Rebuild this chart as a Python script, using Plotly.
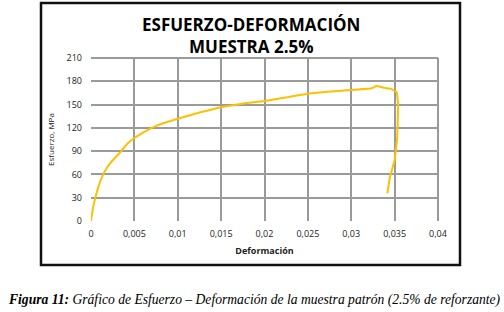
import plotly.graph_objects as go

strain = [0.0, 0.00023, 0.0005, 0.00088, 0.00137, 0.00183, 0.0024, 0.0035, 0.0041, 0.005,
          0.0060, 0.0072, 0.0085, 0.010, 0.0126, 0.015, 0.0176, 0.020, 0.025, 0.030, 0.0324,
          0.0329, 0.0338, 0.0345, 0.0352, 0.0354, 0.0353, 0.0350, 0.03447, 0.03416]
stress = [0.0, 17, 30, 45, 59, 68.6, 77, 90, 98.6, 107,
          114, 121, 126.5, 131.7, 140, 146.6, 151.5, 154.5, 164, 168.8, 171,
          174, 171.5, 170.5, 166.6, 151.6, 108.6, 78.6, 57, 35.7]

x_ticks = [0, 0.005, 0.01, 0.015, 0.02, 0.025, 0.03, 0.035, 0.04]
y_ticks = [0, 30, 60, 90, 120, 150, 180, 210]

W, H = 504, 312
L, R, T, B = 91, 438, 58, 221
pw, ph = R - L, B - T

def px(x):
    return (x - L) / pw

def py(y):
    return (B - y) / ph

fig = go.Figure()
fig.add_trace(go.Scatter(x=strain, y=stress, mode="lines",
                         line=dict(color="#FFC000", width=2, shape="spline", smoothing=0.3),
                         hoverinfo="skip", showlegend=False))

title_font = dict(family="Open Sans, sans-serif", size=17, color="#000")

fig.update_layout(
    width=W, height=H,
    margin=dict(l=L, r=W - R, t=T, b=H - B, autoexpand=False),
    paper_bgcolor="white", plot_bgcolor="white",
    separators=",.",
    font=dict(family="Open Sans, sans-serif", color="#222"),
    xaxis=dict(range=[0, 0.04], tickvals=x_ticks, showgrid=True, gridcolor="#9a9a9a", gridwidth=2,
               zeroline=False, showline=False, ticks="", tickfont=dict(size=9, color="#222"),
               ticklabelstandoff=6, automargin=False,
               title=dict(text="<b>Deformación</b>", font=dict(size=9, color="#222"), standoff=8)),
    yaxis=dict(range=[0, 210], tickvals=y_ticks, showgrid=True, gridcolor="#9a9a9a", gridwidth=2,
               zeroline=False, showline=False, ticks="", tickfont=dict(size=9, color="#222"),
               ticklabelstandoff=8, automargin=False,
               title=dict(text="Esfuerzo, MPa", font=dict(size=8, color="#222"), standoff=10)),
    shapes=[
        dict(type="rect", xref="paper", yref="paper", x0=px(41), x1=px(460), y0=py(265), y1=py(3),
             line=dict(color="#111", width=2.5), layer="below"),
        dict(type="line", xref="paper", yref="paper", x0=1, x1=1, y0=0, y1=1,
             line=dict(color="#9a9a9a", width=2), layer="below"),
        dict(type="line", xref="paper", yref="paper", x0=0, x1=1, y0=1, y1=1,
             line=dict(color="#9a9a9a", width=2), layer="below"),
    ],
    annotations=[
        dict(text="<b>ESFUERZO-DEFORMACIÓN</b>", xref="paper", yref="paper",
             x=px(251), y=py(24), xanchor="center", yanchor="middle", showarrow=False, font=title_font),
        dict(text="<b>MUESTRA 2.5%</b>", xref="paper", yref="paper",
             x=px(251), y=py(47), xanchor="center", yanchor="middle", showarrow=False, font=title_font),
        dict(text="<b><i>Figura 11:</i></b><i> Gráfico de Esfuerzo – Deformación de la muestra patrón (2.5% de reforzante)</i>",
             xref="paper", yref="paper", x=px(254), y=py(300), xanchor="center", yanchor="middle",
             showarrow=False, font=dict(family="Liberation Serif, serif", size=13.6, color="#000")),
    ],
)

fig.write_html("out.html", config={"displayModeBar": False},
               post_script="document.body.style.margin='0';document.body.style.overflow='hidden';")
